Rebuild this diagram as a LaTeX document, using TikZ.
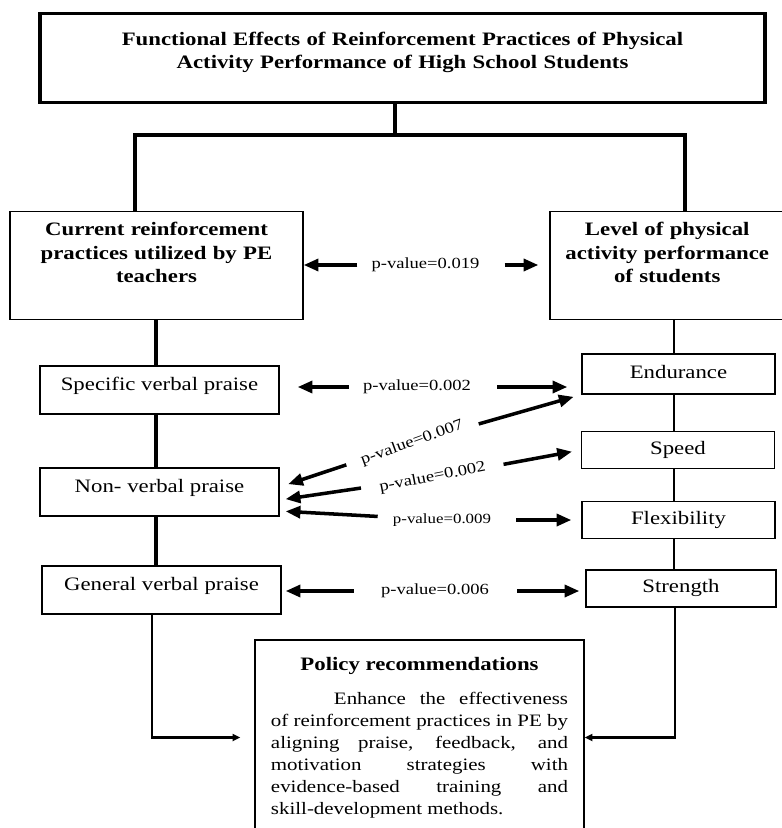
\documentclass[tikz,border=0pt]{standalone}
\usepackage{fontspec}
\setmainfont{Liberation Serif}[FakeStretch=1.2]
\usetikzlibrary{arrows.meta}

\begin{document}
\begin{tikzpicture}[x=0.025cm, y=-0.025cm,
  every node/.style={font=\fontsize{13.5}{16.5}\selectfont},
  box/.style={draw, line width=0.9pt},
  headbox/.style={box, anchor=north, align=center, inner xsep=2mm, inner ysep=0.27cm, text depth=1.83cm, font=\fontsize{13.5}{16.5}\selectfont\bfseries},
  praise/.style={box, minimum width=5.975cm, minimum height=1.2cm, text height=0.32cm, text depth=0.32cm, inner sep=1pt},
  measure/.style={box, minimum width=4.825cm, minimum height=0.92cm, text height=0.33cm, text depth=0.13cm, inner sep=1pt},
  pv/.style={inner sep=0pt, font=\fontsize{11}{13}\selectfont},
  branch/.style={line width=2.3pt},
  spine/.style={line width=2.6pt},
  rspine/.style={line width=1.9pt},
  arr/.style={line width=2.5pt, -{Triangle[length=10.5pt, width=8.5pt]}},
  flow/.style={line width=1.5pt, -{Triangle[length=5.5pt, width=5pt]}}]

\useasboundingbox (0,0) rectangle (782,828);

\node[box, line width=2.3pt, anchor=north, align=center, text width=17.525cm, inner xsep=3mm, inner ysep=0.465cm, text depth=0.95cm, font=\fontsize{13.5}{16.5}\selectfont\bfseries] (title) at (402.5,12) {Functional Effects of Reinforcement Practices of Physical\\Activity Performance of High School Students};

\node[headbox, text width=6.925cm] (curbox) at (156.5,211) {Current reinforcement\\practices utilized by PE\\teachers};
\node[headbox, text width=5.46cm] (levbox) at (667.25,211) {Level of physical\\activity performance\\of students};

\node[praise] (spec) at (159.5,390) {Specific verbal praise};
\node[praise] (nonverb) at (159.5,492) {Non- verbal praise};
\node[praise] (general) at (161.5,590) {General verbal praise};

\node[measure, minimum height=1cm] (endu) at (678.5,374) {Endurance};
\node[measure] (speed) at (678,450) {Speed};
\node[measure] (flex) at (678.5,520) {Flexibility};
\node[measure, minimum width=4.75cm] (strength) at (681,588.5) {Strength};

\node[box, minimum width=8.225cm, minimum height=4.875cm, text width=7.425cm, inner xsep=4mm, align=justify, font=\fontsize{12.4}{15.6}\selectfont] (policy) at (419.5,737.5) {{\centering\fontsize{13.5}{16.5}\selectfont\bfseries Policy recommendations\par}\vspace{8.5pt}\hspace*{1.575cm}Enhance the effectiveness\linebreak of reinforcement practices in PE by\linebreak aligning praise, feedback, and\linebreak motivation strategies with\linebreak evidence-based training and\linebreak skill-development methods.};

\node[pv] (pv0) at (425.5,265) {p-value=0.019};
\node[pv] (pv1) at (417,387) {p-value=0.002};
\node[pv, rotate=20] (pv2) at (412,443) {p-value=0.007};
\node[pv, rotate=11] (pv3) at (432.5,477.5) {p-value=0.002};
\node[pv, font=\fontsize{10}{12}\selectfont] (pv4) at (442,520) {p-value=0.009};
\node[pv] (pv5) at (435,591) {p-value=0.006};

\coordinate (split) at (395,135);
\coordinate (lbranch) at (135,0);
\coordinate (rbranch) at (685,0);
\coordinate (lline) at (156,0);
\coordinate (rline) at (674,0);
\coordinate (lfeed) at (152,0);
\coordinate (rfeed) at (675,0);

\draw[branch] (title.south -| split) -- (split);
\draw[branch] (curbox.north -| lbranch) |- (split) -| (levbox.north -| rbranch);

\draw[spine] (curbox.south -| lline) -- (spec.north -| lline);
\draw[spine] (spec.south -| lline) -- (nonverb.north -| lline);
\draw[spine] (nonverb.south -| lline) -- (general.north -| lline);

\draw[rspine] (levbox.south -| rline) -- (endu.north -| rline);
\draw[rspine] (endu.south -| rline) -- (speed.north -| rline);
\draw[rspine] (speed.south -| rline) -- (flex.north -| rline);
\draw[rspine] (flex.south -| rline) -- (strength.north -| rline);

\draw[arr, shorten <=0.35cm] (pv0) -- (pv0 -| curbox.east);
\draw[arr, shorten <=0.625cm, shorten >=0.275cm] (pv0) -- (pv0 -| levbox.west);
\draw[arr, shorten <=0.35cm, shorten >=0.45cm] (pv1) -- (pv1 -| spec.east);
\draw[arr, shorten <=0.65cm, shorten >=0.35cm] (pv1) -- (pv1 -| endu.west);
\draw[arr, shorten <=0.375cm, shorten >=0.2cm] (pv2) -- (endu.south west);
\draw[arr, shorten <=0.375cm, shorten >=0.225cm] (pv2) -- ([yshift=0.125cm]nonverb.east);
\draw[arr, shorten <=0.45cm, shorten >=0.225cm] (pv3) -- (speed.west);
\draw[arr, shorten <=0.45cm, shorten >=0.15cm] (pv3) -- ([yshift=-0.2cm]nonverb.east);
\draw[arr, shorten <=0.375cm, shorten >=0.15cm] (pv4) -- ([yshift=-0.475cm]nonverb.east);
\draw[arr, shorten <=0.625cm, shorten >=0.25cm] (pv4) -- (pv4 -| flex.west);
\draw[arr, shorten <=0.675cm, shorten >=0.1cm] (pv5) -- (pv5 -| general.east);
\draw[arr, shorten <=0.7cm, shorten >=0.15cm] (pv5) -- (pv5 -| strength.west);

\draw[flow, shorten >=0.35cm] (general.south -| lfeed) |- (policy.west);
\draw[flow] (strength.south -| rfeed) |- (policy.east);

\end{tikzpicture}
\end{document}
